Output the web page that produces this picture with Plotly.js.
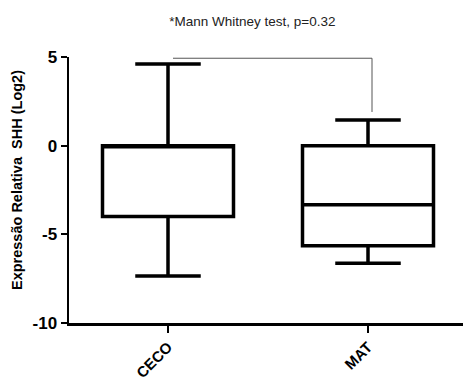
<!DOCTYPE html>
<html><head><meta charset="utf-8">
<script src="https://cdn.plot.ly/plotly-3.0.1.min.js"></script>
<style>html,body{margin:0;padding:0;background:#fff}#chart{width:463px;height:389px}</style>
</head><body><div id="chart"></div>
<script>
var categories = ["CECO", "MAT"];
var upperFence = [4.6, 1.45];
var q3 = [0, 0];
var median = [0, -3.33];
var q1 = [-4.0, -5.64];
var lowerFence = [-7.35, -6.63];
var yTicks = [-10, -5, 0, 5];
var bracketX = [0.025, 1.02];
var bracketY = [4.93, 1.9];

var font = "Liberation Sans, Arial, sans-serif";

var data = [{
  type: "box",
  x: categories,
  q1: q1, median: median, q3: q3,
  lowerfence: lowerFence, upperfence: upperFence,
  width: 0.655,
  whiskerwidth: 0.5,
  fillcolor: "#ffffff",
  line: {color: "#000000", width: 3.5},
  hoverinfo: "skip",
  showlegend: false
}];

var layout = {
  width: 463, height: 389,
  margin: {l: 69, r: 0, t: 57, b: 66},
  paper_bgcolor: "#ffffff", plot_bgcolor: "#ffffff",
  showlegend: false,
  title: {
    text: "*Mann Whitney test, p=0.32",
    font: {family: font, size: 13.5, color: "#222222"},
    xref: "container", x: 0.545, xanchor: "center",
    yref: "container", y: 1 - 21/389, yanchor: "middle"
  },
  xaxis: {
    type: "category",
    range: [-0.495, 1.475],
    tickvals: categories,
    ticktext: categories,
    showgrid: false, zeroline: false,
    showline: true, linecolor: "#000000", linewidth: 2.5,
    ticks: "outside", ticklen: 7, tickwidth: 2.5, tickcolor: "#000000",
    tickangle: -45,
    tickfont: {family: font, size: 15, color: "#000000", weight: 700}
  },
  yaxis: {
    range: [-10, 5],
    tickmode: "array",
    tickvals: yTicks,
    ticktext: yTicks.map(String),
    showgrid: false, zeroline: false,
    showline: true, linecolor: "#000000", linewidth: 2.5,
    ticks: "outside", ticklen: 6, tickwidth: 2, tickcolor: "#000000",
    tickfont: {family: font, size: 17, color: "#000000", weight: 700}
  },
  annotations: [{
    text: "<b>Expressão Relativa  SHH (Log2)</b>",
    textangle: -90,
    xref: "paper", yref: "paper",
    x: (17 - 69) / 394, y: (323 - 180) / 266,
    xanchor: "center", yanchor: "middle",
    showarrow: false,
    font: {family: font, size: 14.5, color: "#000000"}
  }],
  shapes: [
    {type: "line", xref: "x", yref: "y", x0: bracketX[0], x1: bracketX[1], y0: bracketY[0], y1: bracketY[0],
     line: {color: "#555555", width: 1}},
    {type: "line", xref: "x", yref: "y", x0: bracketX[1], x1: bracketX[1], y0: bracketY[0], y1: bracketY[1],
     line: {color: "#555555", width: 1}}
  ]
};

Plotly.newPlot("chart", data, layout, {displayModeBar: false, staticPlot: true});
</script></body></html>
